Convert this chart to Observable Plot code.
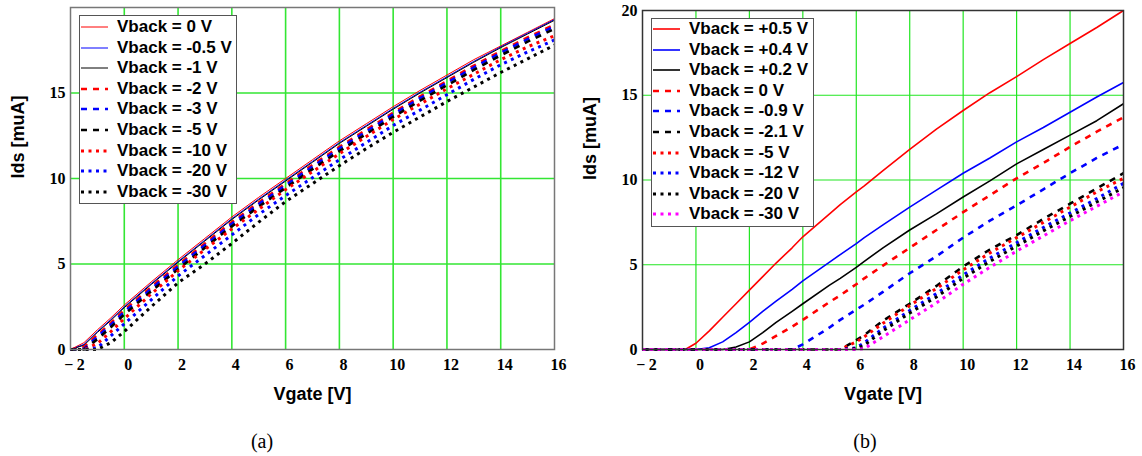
<!DOCTYPE html>
<html>
<head>
<meta charset="utf-8">
<script src="https://cdn.jsdelivr.net/npm/d3@7"></script>
<script src="https://cdn.jsdelivr.net/npm/@observablehq/plot@0.6"></script>
<style>
  body { margin: 0; background: #fff; }
  #fig { position: relative; width: 1142px; height: 456px; overflow: hidden; }
  .panel { position: absolute; top: 0; width: 571px; height: 456px; }
  .panel > svg { position: absolute; left: 0; top: 0; }
  .panel > svg g[aria-label$="tick label"], .panel > svg g[aria-label$="tick label"] text {
    font-family: "Liberation Serif", "Times New Roman", serif; font-size: 16px; font-weight: bold; fill: #000;
  }
  .legend { position: absolute; border: 1.5px solid #555; background: #fff; box-sizing: border-box;
            font: bold 17px "Liberation Sans", Arial, sans-serif; color: #000; }
  .legend .row { position: absolute; left: 0; height: 20px; display: flex; align-items: center; white-space: nowrap; }
  .legend .row svg { position: static; margin-left: 1px; flex: none; }
  .legend .row span { margin-left: 9px; line-height: 20px; }
  .caption { position: absolute; top: 429px; font: 20px "Liberation Serif", "Times New Roman", serif;
             transform: translateX(-50%); line-height: 24px; }
</style>
</head>
<body>
<div id="fig"></div>
<script>
// ---------- Panel (a): Ids vs Vgate for negative back-gate biases ----------
const vgA = [-2, -1.5, -1, -0.5, 0, 1, 2, 3, 4, 5, 6, 7, 8, 9, 10, 11, 12, 13, 14, 15, 16];
const idsA_0V    = [0, 0.4, 1.15, 1.85, 2.6, 3.95, 5.25, 6.5, 7.75, 8.9, 10.0, 11.1, 12.2, 13.2, 14.2, 15.15, 16.05, 16.95, 17.75, 18.55, 19.35];
const idsA_m05V  = [0, 0.3, 1.05, 1.75, 2.5, 3.85, 5.15, 6.4, 7.65, 8.8, 9.9, 11.0, 12.1, 13.1, 14.1, 15.05, 15.95, 16.85, 17.7, 18.5, 19.3];
const idsA_m1V   = [0, 0.25, 1.0, 1.7, 2.45, 3.8, 5.1, 6.35, 7.6, 8.75, 9.85, 10.95, 12.05, 13.05, 14.05, 15.0, 15.9, 16.8, 17.65, 18.45, 19.25];
const idsA_m2V   = [0, 0.15, 0.85, 1.55, 2.3, 3.65, 4.95, 6.2, 7.45, 8.6, 9.7, 10.8, 11.85, 12.85, 13.85, 14.8, 15.7, 16.6, 17.45, 18.25, 19.0];
const idsA_m3V   = [0, 0.05, 0.75, 1.45, 2.2, 3.55, 4.85, 6.1, 7.35, 8.5, 9.6, 10.7, 11.75, 12.75, 13.75, 14.7, 15.6, 16.5, 17.35, 18.15, 18.9];
const idsA_m5V   = [0, 0, 0.6, 1.3, 2.05, 3.4, 4.7, 5.95, 7.2, 8.35, 9.45, 10.55, 11.6, 12.6, 13.6, 14.55, 15.45, 16.35, 17.2, 18.0, 18.75];
const idsA_m10V  = [0, 0, 0.35, 1.05, 1.8, 3.25, 4.6, 5.85, 7.05, 8.2, 9.35, 10.4, 11.45, 12.45, 13.45, 14.35, 15.25, 16.1, 16.95, 17.7, 18.35];
const idsA_m20V  = [0, 0, 0.1, 0.8, 1.5, 2.9, 4.3, 5.5, 6.7, 7.9, 9.0, 10.05, 11.1, 12.1, 13.1, 14.0, 14.9, 15.8, 16.65, 17.4, 18.1];
const idsA_m30V  = [0, 0, 0, 0.4, 1.05, 2.5, 3.9, 5.0, 6.2, 7.45, 8.65, 9.7, 10.75, 11.75, 12.7, 13.6, 14.5, 15.35, 16.2, 17.0, 17.8];
const labelsA = ["Vback = 0 V", "Vback = -0.5 V", "Vback = -1 V", "Vback = -2 V", "Vback = -3 V",
                 "Vback = -5 V", "Vback = -10 V", "Vback = -20 V", "Vback = -30 V"];

// ---------- Panel (b): Ids vs Vgate, back-gate from +0.5 V to -30 V ----------
const vgB = [-2, -1, -0.4, 0, 0.5, 1, 1.5, 2, 2.5, 3, 3.6, 4, 5, 5.4, 6, 6.3, 7, 8, 9, 10, 11, 12, 13, 14, 15, 16];
const idsB_p05V  = [0, 0, 0, 0.37, 1.1, 1.9, 2.7, 3.5, 4.3, 5.1, 6.0, 6.65, 8.0, 8.55, 9.3, 9.65, 10.55, 11.8, 13.0, 14.1, 15.15, 16.1, 17.1, 18.05, 19.0, 20.0];
const idsB_p04V  = [0, 0, 0, 0, 0.1, 0.45, 1.0, 1.6, 2.25, 2.85, 3.55, 4.05, 5.15, 5.6, 6.25, 6.6, 7.35, 8.4, 9.4, 10.4, 11.3, 12.25, 13.1, 14.0, 14.9, 15.75];
const idsB_p02V  = [0, 0, 0, 0, 0, 0, 0.15, 0.45, 1.0, 1.6, 2.25, 2.7, 3.8, 4.2, 4.85, 5.2, 6.0, 7.05, 8.0, 9.0, 9.95, 10.95, 11.8, 12.65, 13.5, 14.5];
const idsB_0V    = [0, 0, 0, 0, 0, 0, 0, 0, 0.35, 0.8, 1.35, 1.75, 2.8, 3.2, 3.85, 4.2, 4.95, 6.0, 7.05, 8.1, 9.1, 10.1, 11.0, 11.95, 12.85, 13.7];
const idsB_m09V  = [0, 0, 0, 0, 0, 0, 0, 0, 0, 0, 0, 0.3, 1.3, 1.75, 2.35, 2.65, 3.4, 4.5, 5.5, 6.6, 7.6, 8.5, 9.45, 10.4, 11.3, 12.1];
const idsB_m21V  = [0, 0, 0, 0, 0, 0, 0, 0, 0, 0, 0, 0, 0, 0, 0.55, 0.85, 1.7, 2.7, 3.75, 4.9, 5.9, 6.75, 7.7, 8.6, 9.5, 10.4];
const idsB_m5V   = [0, 0, 0, 0, 0, 0, 0, 0, 0, 0, 0, 0, 0, 0, 0.45, 0.75, 1.55, 2.6, 3.6, 4.7, 5.7, 6.6, 7.5, 8.4, 9.3, 10.1];
const idsB_m12V  = [0, 0, 0, 0, 0, 0, 0, 0, 0, 0, 0, 0, 0, 0, 0.1, 0.4, 1.25, 2.3, 3.3, 4.4, 5.4, 6.3, 7.2, 8.05, 8.9, 9.8];
const idsB_m20V  = [0, 0, 0, 0, 0, 0, 0, 0, 0, 0, 0, 0, 0, 0, 0.05, 0.25, 1.1, 2.15, 3.1, 4.2, 5.2, 6.1, 7.0, 7.85, 8.7, 9.55];
const idsB_m30V  = [0, 0, 0, 0, 0, 0, 0, 0, 0, 0, 0, 0, 0, 0, 0, 0.05, 0.75, 1.75, 2.75, 3.85, 4.85, 5.8, 6.7, 7.6, 8.45, 9.3];
const labelsB = ["Vback = +0.5 V", "Vback = +0.4 V", "Vback = +0.2 V", "Vback = 0 V", "Vback = -0.9 V",
                 "Vback = -2.1 V", "Vback = -5 V", "Vback = -12 V", "Vback = -20 V", "Vback = -30 V"];

// Axis ticks and grid positions
const xTicks = [-2, 0, 2, 4, 6, 8, 10, 12, 14, 16];
const xGrid = [0, 2, 4, 6, 8, 10, 12, 14];
const yTicksA = [0, 5, 10, 15];
const yTicksB = [0, 5, 10, 15, 20];
const yGrid = [5, 10, 15];
const xTitle = "Vgate [V]";
const yTitle = "Ids [muA]";

// Line styles
const SOLID = null, DASH = "6,6", DOT = "3,4.5";
const stylesA = [
  {color: "#ff0000", dash: SOLID, width: 1},
  {color: "#0000ff", dash: SOLID, width: 1},
  {color: "#000000", dash: SOLID, width: 1},
  {color: "#ff0000", dash: DASH, width: 2.6},
  {color: "#0000ff", dash: DASH, width: 2.6},
  {color: "#000000", dash: DASH, width: 2.6},
  {color: "#ff0000", dash: DOT, width: 3},
  {color: "#0000ff", dash: DOT, width: 3},
  {color: "#000000", dash: DOT, width: 3}
];
const stylesB = [
  {color: "#ff0000", dash: SOLID, width: 1.6},
  {color: "#0000ff", dash: SOLID, width: 1.6},
  {color: "#000000", dash: SOLID, width: 1.6},
  {color: "#ff0000", dash: DASH, width: 2.6},
  {color: "#0000ff", dash: DASH, width: 2.6},
  {color: "#000000", dash: DASH, width: 2.6},
  {color: "#ff0000", dash: DOT, width: 3},
  {color: "#0000ff", dash: DOT, width: 3},
  {color: "#000000", dash: DOT, width: 3},
  {color: "#ff00ff", dash: DOT, width: 3}
];

const seriesA = [idsA_0V, idsA_m05V, idsA_m1V, idsA_m2V, idsA_m3V, idsA_m5V, idsA_m10V, idsA_m20V, idsA_m30V];
const seriesB = [idsB_p05V, idsB_p04V, idsB_p02V, idsB_0V, idsB_m09V, idsB_m21V, idsB_m5V, idsB_m12V, idsB_m20V, idsB_m30V];

const fmtTick = v => v < 0 ? "\u2212\u2009" + Math.abs(v) : String(v);
const SANS = "'Liberation Sans', Arial, sans-serif";
const SERIF = "'Liberation Serif', 'Times New Roman', serif";

function panel({vg, series, styles, yTicks, ml, mr, mt, frameColor, gridColor, gridWidth}) {
  const lines = series.map((ys, i) => {
    const rows = vg.map((v, j) => ({vg: v, ids: ys[j]}));
    const s = styles[i];
    return Plot.line(rows, {
      x: "vg", y: "ids", stroke: s.color, strokeWidth: s.width,
      strokeDasharray: s.dash ?? undefined, strokeLinecap: "butt", strokeLinejoin: "round"
    });
  });
  return Plot.plot({
    width: 571, height: 420,
    marginLeft: ml, marginRight: mr, marginTop: mt, marginBottom: 71,
    x: {domain: [-2, 16]},
    y: {domain: [0, 20]},
    style: {background: "transparent", overflow: "visible",
            fontFamily: SERIF, fontSize: "16px", fontWeight: "bold", color: "#000"},
    marks: [
      Plot.ruleX(xGrid, {stroke: gridColor, strokeWidth: gridWidth}),
      Plot.ruleY(yGrid, {stroke: gridColor, strokeWidth: gridWidth}),
      ...lines,
      Plot.frame({stroke: frameColor, strokeWidth: 1.5}),
      Plot.axisX(xTicks, {tickSize: 0, tickPadding: 9, dx: 4, tickFormat: fmtTick, label: null,
        fontFamily: SERIF, fontSize: 16, fontWeight: "bold", fill: "#000"}),
      Plot.axisY(yTicks, {tickSize: 0, tickPadding: 5, label: null,
        fontFamily: SERIF, fontSize: 16, fontWeight: "bold", fill: "#000"}),
      Plot.text([xTitle], {text: d => d, frameAnchor: "bottom", dy: 50,
        fontFamily: SANS, fontSize: 18, fontWeight: "bold", fill: "#000"}),
      Plot.text([yTitle], {text: d => d, frameAnchor: "left", dx: -52, rotate: -90,
        fontFamily: SANS, fontSize: 18, fontWeight: "bold", fill: "#000"})
    ]
  });
}

function legend(labels, styles, box) {
  const el = document.createElement("div");
  el.className = "legend";
  Object.assign(el.style, {left: box.left + "px", top: box.top + "px", width: box.width + "px", height: box.height + "px"});
  labels.forEach((lab, i) => {
    const row = document.createElement("div");
    row.className = "row";
    row.style.top = (box.first + i * box.step - 10) + "px";
    const s = styles[i];
    const ns = "http://www.w3.org/2000/svg";
    const svg = document.createElementNS(ns, "svg");
    svg.setAttribute("width", 27); svg.setAttribute("height", 6);
    const ln = document.createElementNS(ns, "line");
    ln.setAttribute("x1", 0); ln.setAttribute("x2", 27); ln.setAttribute("y1", 3); ln.setAttribute("y2", 3);
    ln.setAttribute("stroke", s.color); ln.setAttribute("stroke-width", s.width);
    if (s.dash) ln.setAttribute("stroke-dasharray", s.dash);
    svg.appendChild(ln);
    const txt = document.createElement("span");
    txt.textContent = lab;
    row.appendChild(svg); row.appendChild(txt);
    el.appendChild(row);
  });
  return el;
}

const fig = document.getElementById("fig");

const pa = document.createElement("div");
pa.className = "panel"; pa.style.left = "0px";
pa.appendChild(panel({vg: vgA, series: seriesA, styles: stylesA, yTicks: yTicksA, ml: 70, mr: 17, mt: 7,
  frameColor: "#777", gridColor: "#33e633", gridWidth: 1.6}));
pa.appendChild(legend(labelsA, stylesA, {left: 79, top: 15, width: 158, height: 189, first: 11, step: 20.6}));
const ca = document.createElement("div");
ca.className = "caption"; ca.style.left = "262px"; ca.textContent = "(a)";
pa.appendChild(ca);
fig.appendChild(pa);

const pb = document.createElement("div");
pb.className = "panel"; pb.style.left = "571px";
pb.appendChild(panel({vg: vgB, series: seriesB, styles: stylesB, yTicks: yTicksB, ml: 71, mr: 19, mt: 10,
  frameColor: "#333", gridColor: "#22e622", gridWidth: 1.2}));
pb.appendChild(legend(labelsB, stylesB, {left: 80, top: 18, width: 163, height: 209, first: 10, step: 20.6}));
const cb = document.createElement("div");
cb.className = "caption"; cb.style.left = "294px"; cb.textContent = "(b)";
pb.appendChild(cb);
fig.appendChild(pb);
</script>
</body>
</html>
